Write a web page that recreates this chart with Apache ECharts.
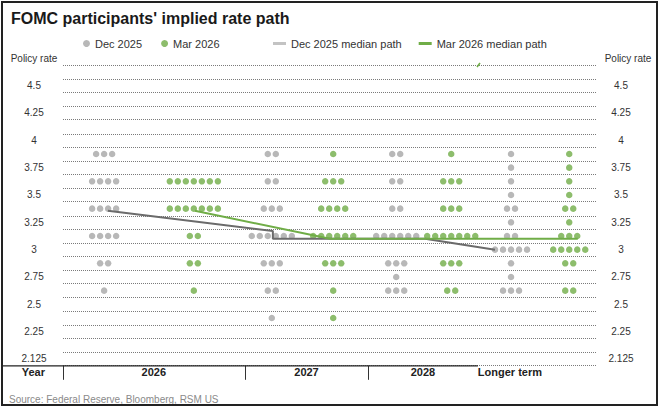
<!DOCTYPE html>
<html><head><meta charset="utf-8">
<script src="https://cdn.jsdelivr.net/npm/echarts@6/dist/echarts.min.js"></script>
<style>html,body{margin:0;padding:0;background:#fff}#c{width:660px;height:408px}</style>
</head><body><div id="c"></div>
<script>
// ---------------- data ----------------
const chartTitle = "FOMC participants' implied rate path";
const sourceText = 'Source: Federal Reserve, Bloomberg, RSM US';
const years = ['2026', '2027', '2028', 'Longer term'];
const seriesNames = ['Dec 2025', 'Mar 2026', 'Dec 2025 median path', 'Mar 2026 median path'];
const rateLevels = [3.875, 3.75, 3.625, 3.5, 3.375, 3.25, 3.125, 3.0, 2.875, 2.75, 2.625, 2.5, 2.375];
// number of participants at each rate level (same order as rateLevels)
const dec2025_2026 = [3, 0, 4, 0, 4, 0, 4, 0, 2, 0, 1, 0, 0];
const dec2025_2027 = [2, 0, 2, 0, 3, 0, 6, 0, 3, 0, 2, 0, 1];
const dec2025_2028 = [2, 0, 2, 0, 2, 0, 6, 0, 3, 1, 3, 0, 0];
const dec2025_LT   = [1, 1, 1, 1, 2, 1, 2, 5, 1, 1, 3, 0, 0];
const mar2026_2026 = [0, 0, 7, 0, 7, 0, 2, 0, 2, 0, 1, 0, 0];
const mar2026_2027 = [1, 0, 3, 0, 4, 0, 6, 0, 3, 0, 1, 0, 1];
const mar2026_2028 = [1, 0, 3, 0, 3, 0, 7, 0, 3, 0, 2, 0, 0];
const mar2026_LT   = [1, 1, 1, 1, 2, 1, 3, 5, 2, 0, 2, 0, 0];
// median paths as drawn (rate values)
const dec2025MedianPath = [3.355, 3.17, 3.1, 3.1, 3.0];
const mar2026MedianPath = [3.355, 3.1, 3.1, 3.1];
// y tick labels
const yTickValues = [4.75, 4.5, 4.25, 4, 3.75, 3.5, 3.25, 3, 2.75, 2.5, 2.25, 2.0];
const yTickLabels = ['Policy rate', '4.5', '4.25', '4', '3.75', '3.5', '3.25', '3', '2.75', '2.5', '2.25', '2.125'];

// ---------------- layout (x in 0..100 plot-width units) ----------------
const LAYOUT = {
  decColX: [7.7, 39.1, 62.4, 83.9],
  marColX: [24.5, 50.6, 72.7, 94.8],
  dotStep: 1.5,
  decPathX: [8.4, 39.3, 39.3, 67.8, 80.9],
  marPathX: [24.7, 50.0, 72.7, 96.4],
  yearBounds: [0, 34.1, 57.1],
  yearLabelX: [17.0, 45.6, 67.4, 83.7],
  solidAxisEnd: 77.7,
  yMin: 1.9375, yMax: 4.8125, yStep: 0.0625, gridStep: 0.125, gridTop: 4.6875
};

const decCols = [dec2025_2026, dec2025_2027, dec2025_2028, dec2025_LT];
const marCols = [mar2026_2026, mar2026_2027, mar2026_2028, mar2026_LT];

function dotData(cols, xs) {
  const out = [];
  cols.forEach((counts, ci) => {
    counts.forEach((n, li) => {
      for (let k = 0; k < n; k++) {
        out.push([xs[ci] + (k - (n - 1) / 2) * LAYOUT.dotStep, rateLevels[li]]);
      }
    });
  });
  return out;
}
const gridVals = [];
for (let v = LAYOUT.yMin; v <= LAYOUT.gridTop + 1e-9; v += LAYOUT.gridStep) gridVals.push(v);

function yLabelIdx(v) { return yTickValues.findIndex(t => Math.abs(t - v) < 1e-6); }
function yLabelLeft(v) { const i = yLabelIdx(v); return i >= 0 ? yTickLabels[i] : ''; }
function yLabelRight(v) {
  const i = yLabelIdx(v);
  if (i < 0) return '';
  return i === 0 ? '{p|' + yTickLabels[i] + '}' : yTickLabels[i];
}
function xLabel(v) {
  const i = LAYOUT.yearLabelX.findIndex(t => Math.abs(t - v) < 1e-6);
  return i >= 0 ? years[i] : '';
}

const FONT = 'Liberation Sans, Arial, sans-serif';
const GREY = '#a6a6a6', GREEN = '#70ad47', DARK = '#6b6b6b';

const chart = echarts.init(document.getElementById('c'), null, { renderer: 'svg' });
const yAxisBase = {
  type: 'value', min: LAYOUT.yMin, max: LAYOUT.yMax, interval: LAYOUT.yStep,
  axisLine: { show: false }, axisTick: { show: false }, splitLine: { show: false }
};
chart.setOption({
  animation: false,
  textStyle: { fontFamily: FONT },
  title: [
    { text: chartTitle, left: 6, top: 5, textStyle: { fontSize: 16, fontWeight: 'bold', color: '#1a1a1a', fontFamily: FONT } },
    { text: sourceText, left: 4, top: 389, textStyle: { fontSize: 10, fontWeight: 'normal', color: '#8a8a8a', fontFamily: FONT } }
  ],
  legend: [
    { data: [seriesNames[0], seriesNames[1]], left: 78, top: 33, icon: 'circle', itemWidth: 7, itemHeight: 7, itemGap: 19,
      textStyle: { fontSize: 11, color: '#333', fontFamily: FONT } },
    { data: [{ name: seriesNames[2], itemStyle: { color: '#c3c3c3' } }, { name: seriesNames[3] }],
      left: 268, top: 33, icon: 'rect', itemWidth: 13, itemHeight: 3, itemGap: 17,
      textStyle: { fontSize: 11, color: '#333', fontFamily: FONT } }
  ],
  grid: { left: 63, right: 63, top: 51.5, bottom: 42.2, containLabel: false },
  xAxis: [
    { type: 'value', min: 0, max: 100, show: false },
    { type: 'value', min: 0, max: 100, position: 'bottom',
      axisLine: { show: false }, splitLine: { show: false },
      axisTick: { show: true, customValues: LAYOUT.yearBounds, length: 14, lineStyle: { color: '#333', width: 1 } },
      axisLabel: { customValues: LAYOUT.yearLabelX, formatter: xLabel, fontSize: 11, fontWeight: 'bold', color: '#222', margin: 1, fontFamily: FONT },
      name: 'Year', nameLocation: 'start', nameGap: 18,
      nameTextStyle: { fontSize: 11, fontWeight: 'bold', color: '#222', verticalAlign: 'top', padding: [1, 0, 0, 0], fontFamily: FONT } }
  ],
  yAxis: [
    Object.assign({}, yAxisBase, { position: 'left', axisLabel: { formatter: yLabelLeft, fontSize: 10, color: '#333', align: 'center', margin: 29, fontFamily: FONT } }),
    Object.assign({}, yAxisBase, { position: 'right', axisLabel: { formatter: yLabelRight, fontSize: 10, color: '#333', align: 'center', margin: 24, fontFamily: FONT,
      rich: { p: { fontSize: 10, color: '#333', padding: [0, 0, 0, 14], fontFamily: FONT } } } })
  ],
  series: [
    { name: 'grid', type: 'line', data: [], silent: true, z: 1,
      markLine: { silent: true, symbol: ['none', 'none'], label: { show: false }, animation: false,
        lineStyle: { color: '#7a7a7a', width: 1, type: [1, 1] },
        emphasis: { disabled: true },
        data: gridVals.map(v => ({ yAxis: v })) } },
    { name: seriesNames[0], type: 'scatter', symbolSize: 6.5, itemStyle: { color: GREY }, z: 3, data: dotData(decCols, LAYOUT.decColX) },
    { name: seriesNames[1], type: 'scatter', symbolSize: 6.5, itemStyle: { color: GREEN }, z: 3, data: dotData(marCols, LAYOUT.marColX) },
    { name: seriesNames[2], type: 'line', symbol: 'none', z: 5, lineStyle: { color: DARK, width: 2 }, itemStyle: { color: DARK },
      data: LAYOUT.decPathX.map((x, i) => [x, dec2025MedianPath[i]]) },
    { name: seriesNames[3], type: 'line', symbol: 'none', z: 5, lineStyle: { color: GREEN, width: 2 }, itemStyle: { color: GREEN },
      data: LAYOUT.marPathX.map((x, i) => [x, mar2026MedianPath[i]]) }
  ]
});

const pEnd = chart.convertToPixel({ xAxisIndex: 0, yAxisIndex: 0 }, [LAYOUT.solidAxisEnd, LAYOUT.yMin]);
chart.setOption({
  graphic: [
    { type: 'rect', shape: { x: 2, y: 2, width: 655, height: 403 }, style: { fill: 'none', stroke: '#222', lineWidth: 2 }, silent: true, z: 10 },
    { type: 'line', shape: { x1: 3, y1: pEnd[1], x2: pEnd[0], y2: pEnd[1] }, style: { stroke: '#222', lineWidth: 1.2 }, silent: true, z: 10 },
    { type: 'line', shape: { x1: 477, y1: 67, x2: 480, y2: 63 }, style: { stroke: GREEN, lineWidth: 1.5 }, silent: true, z: 10 }
  ]
});
</script></body></html>
